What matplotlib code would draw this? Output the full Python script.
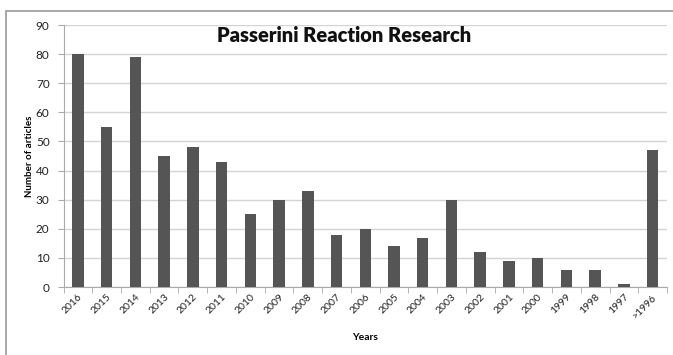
import numpy as np
import matplotlib.pyplot as plt
from matplotlib.patches import Rectangle

years = ['2016', '2015', '2014', '2013', '2012', '2011', '2010', '2009', '2008', '2007',
         '2006', '2005', '2004', '2003', '2002', '2001', '2000', '1999', '1998', '1997', '>1996']
articles = [80, 55, 79, 45, 48, 43, 25, 30, 33, 18, 20, 14, 17, 30, 12, 9, 10, 6, 6, 1, 47]
y_ticks = [0, 10, 20, 30, 40, 50, 60, 70, 80, 90]

plt.rcParams['font.family'] = ['Lato', 'DejaVu Sans']

W, H = 673, 355
fig = plt.figure(figsize=(W / 100, H / 100), dpi=100)
fig.patch.set_facecolor('white')

# outer chart border (Excel-style frame, cut by the image edges)
fig.add_artist(Rectangle((6 / W, -0.05), 1.0, (H - 11) / H + 0.05,
                         transform=fig.transFigure, fill=False,
                         edgecolor='#9a9a9a', linewidth=1.2))

ax = fig.add_axes([63.5 / W, 1 - 287 / H, (667 - 63.5) / W, (287 - 25) / H])
x = np.arange(len(years))
ax.bar(x, articles, width=0.4, color='#555555', zorder=3)

ax.set_xlim(-0.5, len(years) - 0.5)
ax.set_ylim(0, 90)
ax.set_yticks(y_ticks)
ax.set_yticklabels([str(v) for v in y_ticks], fontsize=8.5, color='#222222')
ax.yaxis.grid(True, color='#d4d4d4', linewidth=1.0, zorder=0)

ax.set_xticks(x)
ax.set_xticklabels(years, rotation=45, fontsize=7.5, color='#222222',
                   ha='right', rotation_mode='anchor')
ax.tick_params(axis='x', length=0, pad=4)
ax.set_xticks(np.arange(-0.5, len(years), 1), minor=True)
ax.tick_params(axis='x', which='minor', length=4, color='#aaaaaa')
ax.tick_params(axis='y', length=4, color='#aaaaaa', pad=6)

for side in ['top', 'right']:
    ax.spines[side].set_visible(False)
ax.spines['left'].set_color('#aaaaaa')
ax.spines['bottom'].set_color('#aaaaaa')

ax.set_ylabel('Number of articles', fontsize=7, fontweight='bold', labelpad=1)
ax.set_xlabel('Years', fontsize=7.5, fontweight='bold', labelpad=9)

fig.text(344 / W, 1 - 35 / H, 'Passerini Reaction Research', ha='center', va='center',
         fontsize=14.5, fontweight='heavy', color='#111111')

fig.savefig('out.png', dpi=100)
